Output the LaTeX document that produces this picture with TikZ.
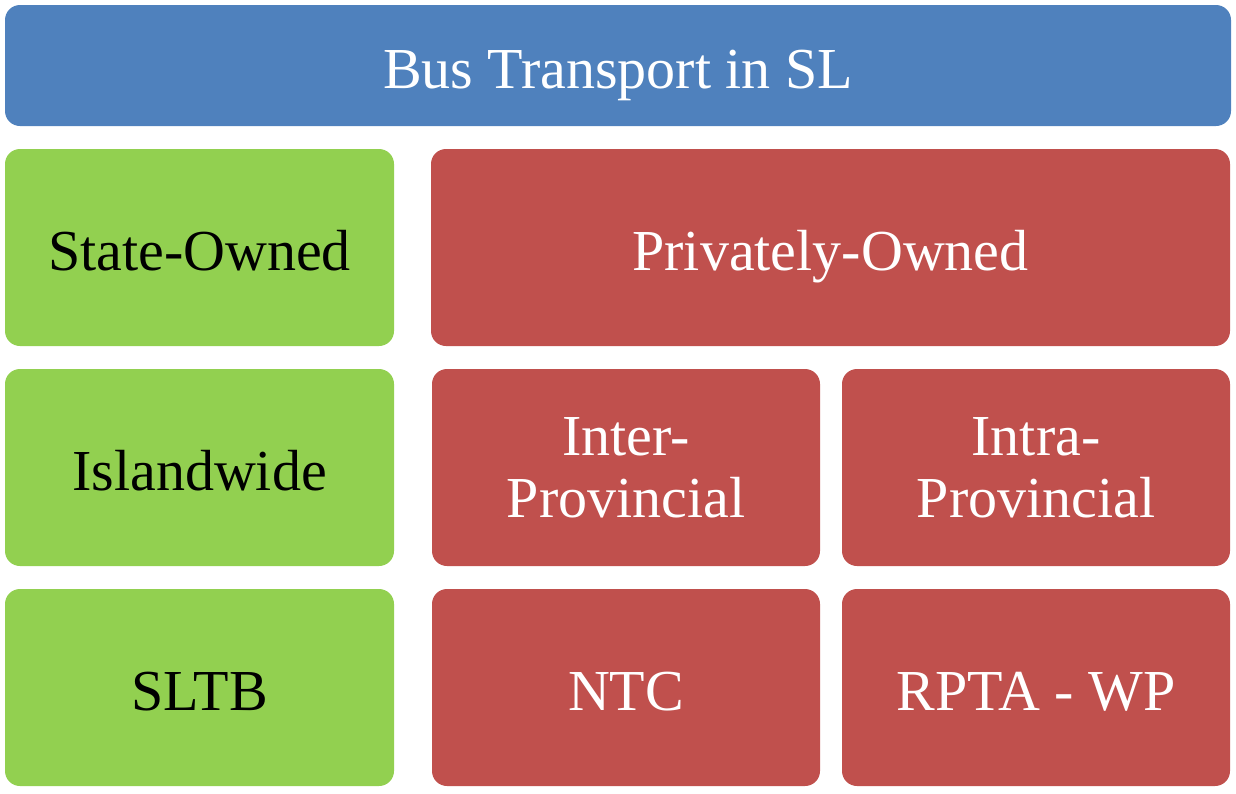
\documentclass[tikz,border=0pt]{standalone}
\usepackage{fontspec}
\setmainfont{Liberation Serif}
\definecolor{bluebox}{HTML}{4F81BD}
\definecolor{greenbox}{HTML}{92D050}
\definecolor{redbox}{HTML}{C0504D}
\begin{document}
\begin{tikzpicture}[x=1pt,y=-1pt,
  box/.style={rounded corners=15pt, inner sep=0pt, align=center,
    font=\fontsize{58}{62}\selectfont},
  oneline/.style={text height=48pt, text depth=2pt},
  title/.style={box, oneline, fill=bluebox, text=white, minimum width=1226pt, minimum height=121pt},
  gbox/.style={box, oneline, fill=greenbox, text=black, minimum width=389pt, minimum height=197pt},
  rwide/.style={box, oneline, fill=redbox, text=white, minimum width=799pt, minimum height=197pt},
  rbox/.style={box, fill=redbox, text=white, minimum width=388pt, minimum height=197pt}]
\useasboundingbox (0,0) rectangle (1236,793);
\node[title] (t) at (618,65.5) {Bus Transport in SL};
\node[gbox] (g1) at (199.5,247.5) {State-Owned};
\node[gbox] (g2) at (199.5,467.5) {Islandwide};
\node[gbox] (g3) at (199.5,687.5) {SLTB};
\node[rwide] (p) at (830.5,247.5) {Privately-Owned};
\node[rbox] (r1) at (626,467.5) {Inter-\\Provincial};
\node[rbox] (r2) at (1036,467.5) {Intra-\\Provincial};
\node[rbox, oneline] (r3) at (626,687.5) {NTC};
\node[rbox, oneline] (r4) at (1036,687.5) {RPTA - WP};
\end{tikzpicture}
\end{document}
